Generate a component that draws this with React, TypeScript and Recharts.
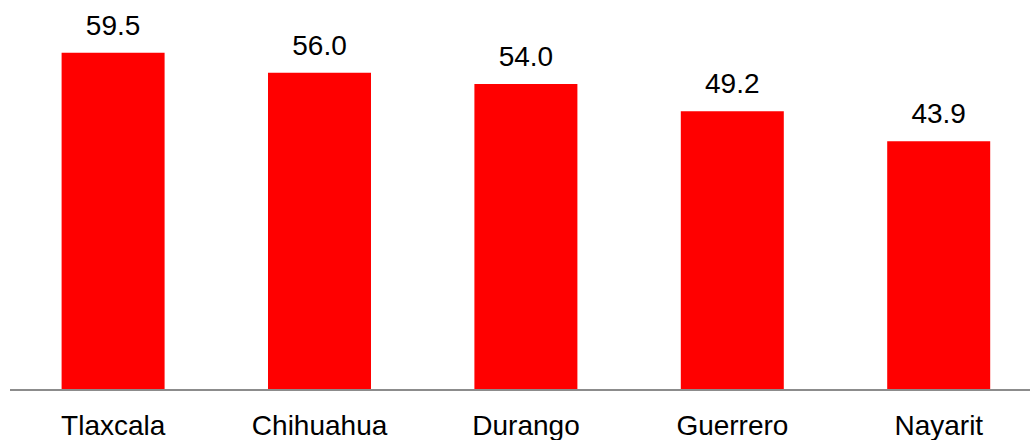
import React from "react";
import { BarChart, Bar, XAxis, YAxis, LabelList } from "recharts";

const states = ["Tlaxcala", "Chihuahua", "Durango", "Guerrero", "Nayarit"];
const values = [59.5, 56.0, 54.0, 49.2, 43.9];

const data = states.map((state, i) => ({ state, value: values[i] }));

const App = () => {
  return (
    <div style={{ position: "absolute", top: 0, left: 0, fontFamily: "'Liberation Sans', Arial, sans-serif" }}>
      <BarChart
        width={1050}
        height={440}
        data={data}
        margin={{ top: 50, right: 8, left: 10, bottom: 0 }}
        barCategoryGap="25%"
      >
        <XAxis
          dataKey="state"
          axisLine={{ stroke: "#8c8c8c", strokeWidth: 2 }}
          tickLine={false}
          tickMargin={19}
          height={50}
          tick={{ fill: "#000", fontSize: 28 }}
          interval={0}
        />
        <YAxis hide domain={[0, 60]} />
        <Bar dataKey="value" fill="#ff0000" isAnimationActive={false}>
          <LabelList
            dataKey="value"
            position="top"
            offset={18}
            formatter={(v: number) => v.toFixed(1)}
            style={{ fill: "#000", fontSize: 28 }}
          />
        </Bar>
      </BarChart>
    </div>
  );
};

export default App;
